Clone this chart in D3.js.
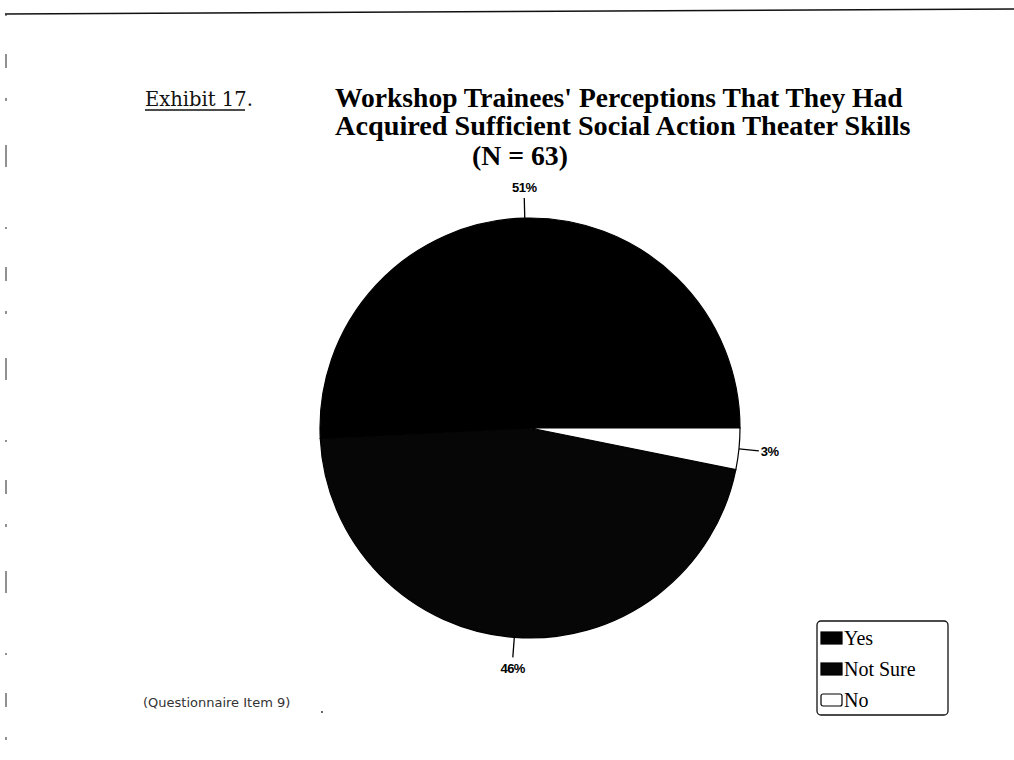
<!DOCTYPE html>
<html>
<head>
<meta charset="utf-8">
<script src="https://cdn.jsdelivr.net/npm/d3@7"></script>
<style>
  body { margin: 0; background: #fff; }
  svg { display: block; }
</style>
</head>
<body>
<div id="chart"></div>
<script>
// datos del grafico (N = 63)
const categories = ["Yes", "Not Sure", "No"];
const counts = [32, 29, 2];
const pctLabels = ["51%", "46%", "3%"];
// orden de los sectores en el sentido de las agujas del reloj, empezando a las 3 en punto
const sliceOrder = ["No", "Not Sure", "Yes"];
const titleLines = [
  "Workshop Trainees' Perceptions That They Had",
  "Acquired Sufficient Social Action Theater Skills"
];

const width = 1014, height = 760;
const svg = d3.select("#chart").append("svg")
  .attr("width", width).attr("height", height);

// ajusta el tamaño de letra para que el texto ocupe el ancho deseado
function fit(sel, target) {
  const fs = parseFloat(sel.style("font-size"));
  const len = sel.node().getComputedTextLength();
  sel.style("font-size", (fs * target / len) + "px");
}

// bordes de la hoja escaneada
svg.append("line")
  .attr("x1", 5).attr("y1", 14).attr("x2", width).attr("y2", 9)
  .attr("stroke", "#111").attr("stroke-width", 1.6);
svg.append("line")
  .attr("x1", 6).attr("y1", 14).attr("x2", 6).attr("y2", 760)
  .attr("stroke", "#222").attr("stroke-width", 1)
  .attr("stroke-dasharray", "2 38 14 30 3 44 22 60");

// Titulo
const ex = svg.append("text")
  .attr("x", 145).attr("y", 106)
  .style("font-family", "'DejaVu Serif', serif")
  .style("font-size", "19px")
  .style("fill", "#111")
  .text("Exhibit 17.");
fit(ex, 108);
svg.append("line")
  .attr("x1", 145).attr("x2", 245).attr("y1", 110).attr("y2", 110)
  .attr("stroke", "#111").attr("stroke-width", 1.4);

titleLines.forEach((t, i) => {
  const tl = svg.append("text")
    .attr("x", 335).attr("y", 107 + i * 28)
    .style("font-family", "'Liberation Serif', 'Times New Roman', serif")
    .style("font-weight", "bold")
    .style("font-size", "24px")
    .style("fill", "#000")
    .text(t);
  fit(tl, i === 0 ? 568 : 576);
});
const nn = svg.append("text")
  .attr("x", 520).attr("y", 165)
  .attr("text-anchor", "middle")
  .style("font-family", "'Liberation Serif', 'Times New Roman', serif")
  .style("font-weight", "bold")
  .style("font-size", "24px")
  .text("(N = 63)");
fit(nn, 96);

// Pie
const cx = 530, cy = 428, radius = 210;
const g = svg.append("g").attr("transform", `translate(${cx},${cy})`);

const data = categories.map((c, i) => ({ cat: c, value: counts[i], pct: pctLabels[i] }));
const color = d3.scaleOrdinal().domain(categories).range(["#000", "#060606", "#fff"]);

const pie = d3.pie()
  .value(d => d.value)
  .sort((a, b) => sliceOrder.indexOf(a.cat) - sliceOrder.indexOf(b.cat))
  .startAngle(Math.PI / 2)
  .endAngle(Math.PI / 2 + 2 * Math.PI);
const arcs = pie(data);

const arc = d3.arc().innerRadius(0).outerRadius(radius);

g.selectAll("path.slice")
  .data(arcs)
  .join("path")
  .attr("class", "slice")
  .attr("d", arc)
  .attr("fill", d => color(d.data.cat))
  .attr("stroke", "#000")
  .attr("stroke-width", 1.2);

// lineas y etiquetas de porcentaje
const mid = d => (d.startAngle + d.endAngle) / 2;
const pt = (a, r) => [Math.sin(a) * r, -Math.cos(a) * r];

g.selectAll("line.tick")
  .data(arcs)
  .join("line")
  .attr("class", "tick")
  .attr("x1", d => pt(mid(d), radius)[0])
  .attr("y1", d => pt(mid(d), radius)[1])
  .attr("x2", d => pt(mid(d), radius + 20)[0])
  .attr("y2", d => pt(mid(d), radius + 20)[1])
  .attr("stroke", "#000")
  .attr("stroke-width", 1.3);

g.selectAll("text.pct")
  .data(arcs)
  .join("text")
  .attr("class", "pct")
  .attr("x", d => pt(mid(d), radius + 22)[0])
  .attr("y", d => pt(mid(d), radius + 22)[1])
  .attr("text-anchor", d => {
    const s = Math.sin(mid(d));
    return s > 0.7 ? "start" : s < -0.7 ? "end" : "middle";
  })
  .attr("dy", d => {
    const s = Math.sin(mid(d)), c = Math.cos(mid(d));
    if (Math.abs(s) > 0.7) return "0.35em";
    return c > 0 ? "-0.3em" : "1.05em";
  })
  .style("font-family", "'Liberation Sans', Arial, sans-serif")
  .style("font-weight", "bold")
  .style("font-size", "13px")
  .style("letter-spacing", "-0.5px")
  .text(d => d.data.pct);

// Leyenda
const lg = svg.append("g").attr("transform", "translate(817,621)");
lg.append("rect")
  .attr("width", 131).attr("height", 94)
  .attr("rx", 4)
  .attr("fill", "none").attr("stroke", "#111").attr("stroke-width", 1.3);
const items = lg.selectAll("g.item")
  .data(categories)
  .join("g")
  .attr("class", "item")
  .attr("transform", (d, i) => `translate(4,${11 + i * 31})`);
items.append("rect")
  .attr("width", 21).attr("height", 12)
  .attr("rx", d => d === "No" ? 2 : 0)
  .attr("fill", d => color(d))
  .attr("stroke", "#000").attr("stroke-width", 1.2);
items.append("text")
  .attr("x", 23).attr("y", 13)
  .style("font-family", "'Liberation Serif', 'Times New Roman', serif")
  .style("font-size", "20px")
  .text(d => d);

// nota al pie
svg.append("text")
  .attr("x", 143).attr("y", 707)
  .style("font-family", "'DejaVu Sans', sans-serif")
  .style("font-size", "13px")
  .style("fill", "#333")
  .text("(Questionnaire Item 9)");
svg.append("circle").attr("cx", 322).attr("cy", 712).attr("r", 1).attr("fill", "#333");
</script>
</body>
</html>
